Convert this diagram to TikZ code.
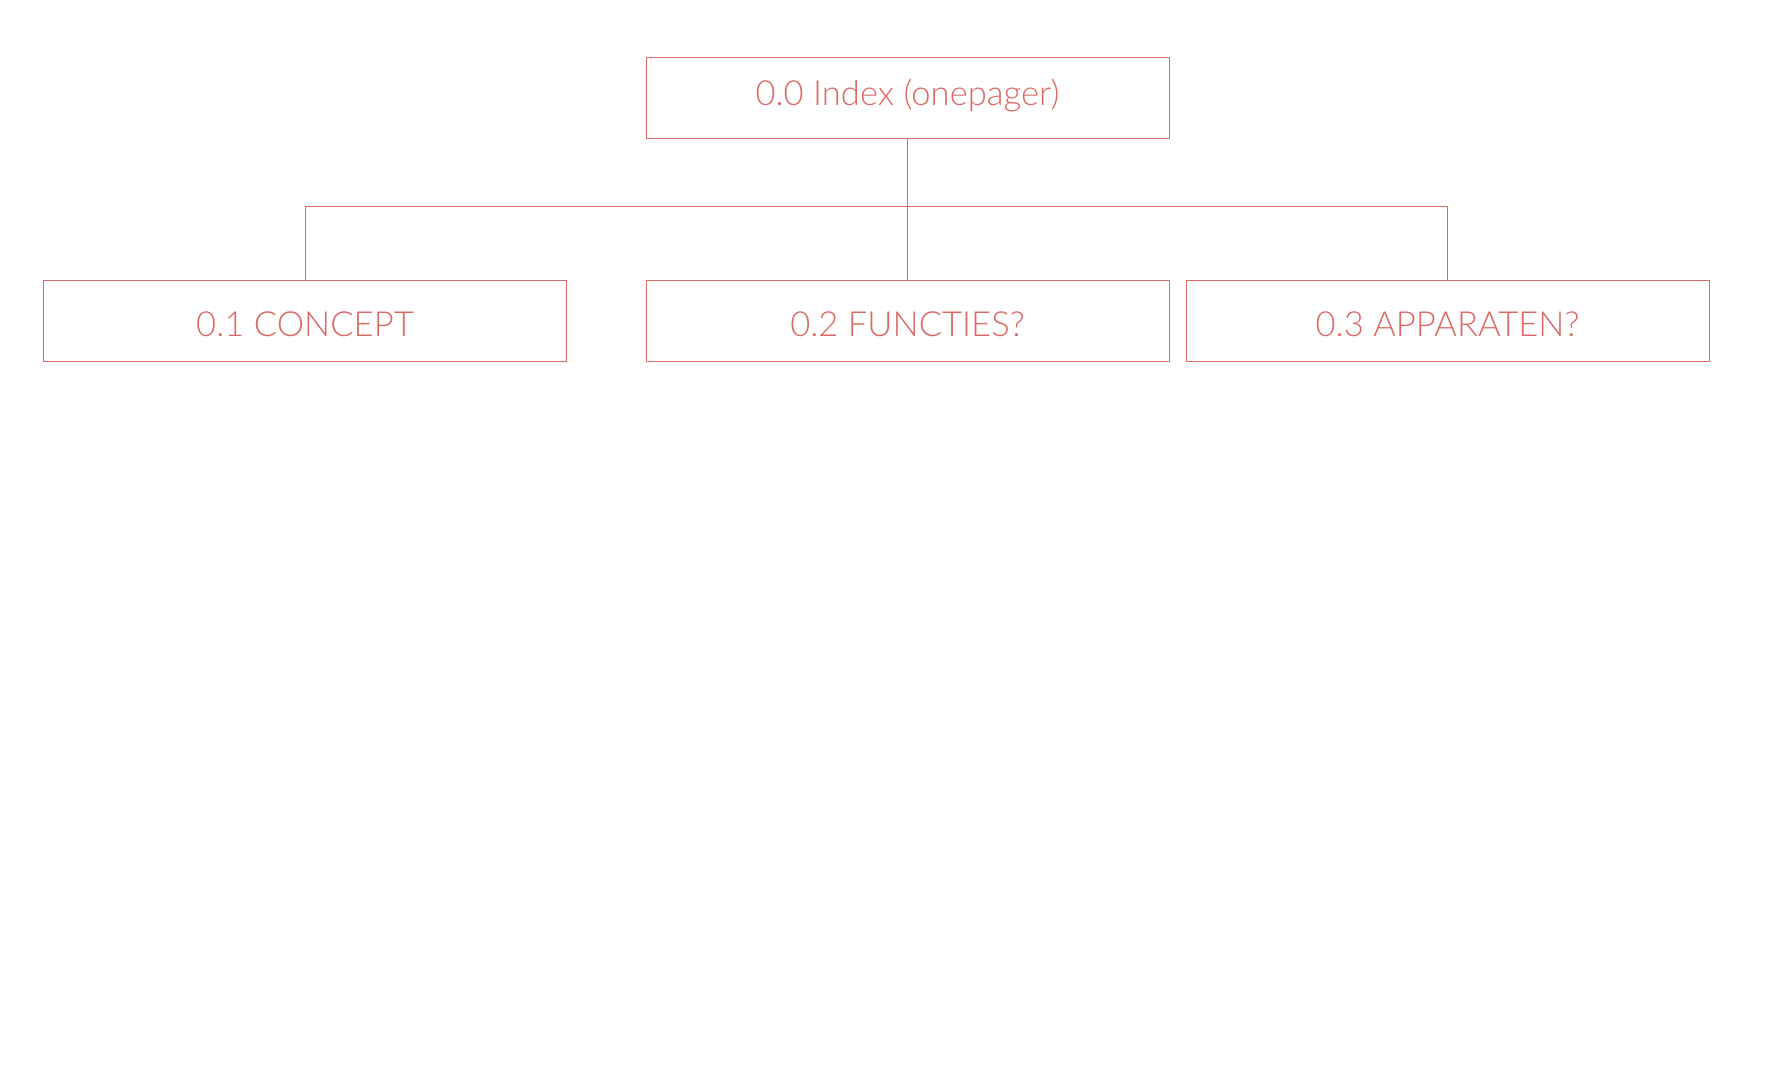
\documentclass[tikz,border=0pt]{standalone}
\usepackage{fontspec}
\setmainfont{Lato}[UprightFont={* Light}]
\definecolor{boxred}{HTML}{DA6A65}
\begin{document}
\begin{tikzpicture}[x=0.5pt, y=-0.5pt,
        pagebox/.style={draw=boxred, line width=0.5pt, text=boxred, minimum width=261.5pt, minimum height=40.5pt, inner sep=0pt, font=\fontsize{17.3}{20}\selectfont},
        link/.style={draw=boxred, line width=0.5pt}]
        \useasboundingbox (0,0) rectangle (1786,1076);
        
        \node (index) [pagebox, text height=24pt, text depth=16.5pt] at (907.5, 97.5) {0.0 Index (onepager)};
        
        \node (concept) [pagebox, text height=28pt, text depth=12.5pt] at (305, 320.5) {0.1 CONCEPT};
        \node (functies) [pagebox, text height=28pt, text depth=12.5pt] at (907.5, 320.5) {0.2 FUNCTIES?};
        \node (apparaten) [pagebox, text height=28pt, text depth=12.5pt] at (1447.5, 320.5) {0.3 APPARATEN?};
        
        \coordinate (bus) at (907.5, 206);
        
        \draw [link] (index.south) -- (functies.north);
        \draw [link] (concept.north) |- (bus);
        \draw [link] (apparaten.north) |- (bus);
        
    \end{tikzpicture}
\end{document}
